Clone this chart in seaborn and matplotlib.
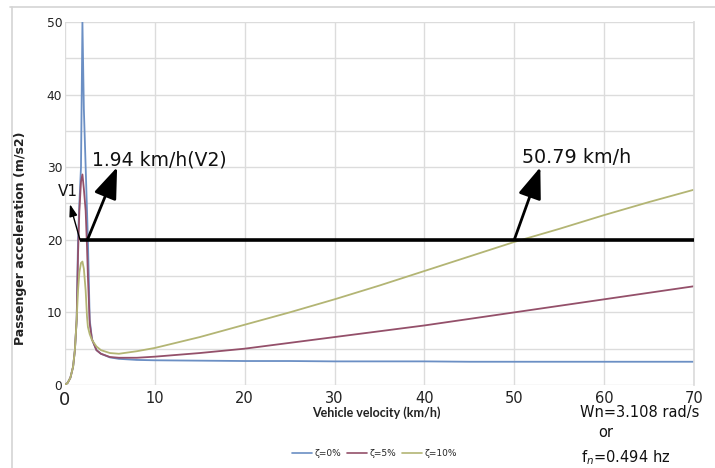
import numpy as np
import pandas as pd
import matplotlib
matplotlib.use("Agg")
import matplotlib.pyplot as plt
from matplotlib.lines import Line2D
import seaborn as sns

# Vehicle velocity (km/h) and passenger acceleration (m/s2) for three damping ratios
velocity = [0, 0.3, 0.6, 0.9, 1.1, 1.3, 1.45, 1.6, 1.78, 1.94, 2.1, 2.3, 2.45, 2.55,
            2.75, 3.0, 3.5, 4, 5, 6, 8, 10, 15, 20, 25, 30, 35, 40, 45, 50, 55, 60, 65, 70]
accel_z0 = [0, 0.3, 1.0, 2.5, 4.8, 9, 20, 25, 30, 50, 38, 30, 24, 20,
            9, 6.3, 4.8, 4.3, 3.8, 3.6, 3.45, 3.4, 3.35, 3.3, 3.3, 3.25, 3.25, 3.25, 3.2, 3.2, 3.2, 3.2, 3.2, 3.2]
accel_z5 = [0, 0.3, 1.0, 2.5, 4.8, 9, 18, 24, 28, 29, 27, 24, 19, 15,
            8.5, 6.3, 4.8, 4.3, 3.85, 3.75, 3.75, 3.9, 4.4, 5.0, 5.8, 6.6, 7.4, 8.2, 9.1, 10.0, 10.9, 11.8, 12.7, 13.6]
accel_z10 = [0, 0.3, 1.0, 2.5, 4.8, 9, 13, 15.5, 16.8, 17, 16, 13, 9.4, 8,
             7, 6.2, 5.3, 4.8, 4.4, 4.3, 4.65, 5.1, 6.6, 8.3, 10.0, 11.8, 13.7, 15.7, 17.7, 19.7, 21.5, 23.4, 25.2, 26.9]
series_labels = ["ζ=0%", "ζ=5%", "ζ=10%"]
series_colors = ["#6b8fc4", "#94506a", "#b3b574"]

# Comfort limit and the two crossing speeds
limit_accel = 20
limit_start = 1.67
v2_speed = 1.94
crossing_speed = 50.79

df = pd.DataFrame({
    "velocity": velocity * 3,
    "accel": accel_z0 + accel_z5 + accel_z10,
    "damping": sum([[lab] * len(velocity) for lab in series_labels], []),
})

sns.set_theme(style="whitegrid")
plt.rcParams["font.family"] = ["DejaVu Sans"]

fig = plt.figure(figsize=(7.15, 4.68), dpi=100)
ax = fig.add_axes([0.0909, 0.1774, 0.8797, 0.7756])

sns.lineplot(data=df, x="velocity", y="accel", hue="damping", hue_order=series_labels,
             palette=series_colors, linewidth=1.3, ax=ax, legend=False, sort=False,
             estimator=None)

ax.set_xlim(0, 70)
ax.set_ylim(0, 50)
ax.set_xticks(range(0, 71, 10))
ax.set_yticks(range(0, 51, 10))
ax.set_yticks(range(5, 50, 10), minor=True)
ax.grid(True, which="both", axis="y", color="#dcdcdc", linewidth=1.0)
ax.grid(True, which="major", axis="x", color="#dcdcdc", linewidth=1.0)
ax.set_facecolor("white")
for side in ["left", "top", "bottom"]:
    ax.spines[side].set_visible(False)
ax.spines["right"].set_color("#dcdcdc")
ax.tick_params(axis="both", which="both", length=0)
ax.tick_params(axis="y", labelsize=8.8, pad=2, colors="#222222")
ax.tick_params(axis="x", labelsize=10.5, pad=4, colors="#222222")
ax.get_xticklabels()[0].set_fontsize(13)

ax.set_xlabel("")
ax.set_ylabel("")
fig.text(0.028, 0.49, "Passenger acceleration (m/s2)", rotation=90, ha="center",
         va="center", fontsize=9, fontweight="bold", color="#222222")
fig.text(0.527, 0.118, "Vehicle velocity (km/h)", ha="center", va="center",
         fontsize=9, fontweight="bold", family=["Lato", "DejaVu Sans"], color="#222222")

# Comfort limit line
ax.plot([limit_start, 70], [limit_accel, limit_accel], color="black", linewidth=2.6,
        solid_capstyle="butt", zorder=4)

# V1 marker
ax.annotate("", xy=(0.55, 24.9), xytext=(limit_start, limit_accel),
            arrowprops=dict(arrowstyle="-|>,head_length=0.9,head_width=0.3",
                            color="black", lw=1.0, mutation_scale=8,
                            shrinkA=0, shrinkB=0), zorder=5)
ax.text(0.35, 26.6, "V1", ha="center", va="center", fontsize=11, color="#111111")

big_arrow = dict(arrowstyle="-|>,head_length=1.6,head_width=0.6", color="black",
                 lw=2.0, mutation_scale=12, shrinkA=0, shrinkB=0)
ax.annotate("", xy=(5.8, 30.0), xytext=(2.5, limit_accel), arrowprops=big_arrow, zorder=5)
ax.text(3.0, 31.0, f"{v2_speed} km/h(V2)", ha="left", va="center", fontsize=13.5,
        color="#111111")
ax.annotate("", xy=(52.9, 30.0), xytext=(50.0, limit_accel), arrowprops=big_arrow, zorder=5)
ax.text(50.9, 31.4, f"{crossing_speed} km/h", ha="left", va="center", fontsize=13.8,
        color="#111111")

# Natural frequency note
fig.text(0.895, 0.118, "Wn=3.108 rad/s", ha="center", va="center", fontsize=10.5,
         color="#111111")
fig.text(0.847, 0.075, "or", ha="center", va="center", fontsize=10.5, color="#111111")
fig.text(0.812, 0.022, r"f$_{n}$=0.494 hz", ha="left", va="center", fontsize=10.5,
         color="#111111")

# Legend
handles = [Line2D([0], [0], color=c, lw=1.2) for c in series_colors]
fig.legend(handles, series_labels, loc="center", bbox_to_anchor=(0.524, 0.030), ncol=3,
           frameon=False, fontsize=6.5, handlelength=2.2, handletextpad=0.3,
           columnspacing=0.6)

# Chart area frame
fig.add_artist(Line2D([0.014, 1.0], [0.985, 0.985], color="#d4d4d4", lw=1.2))
fig.add_artist(Line2D([0.017, 0.017], [0.985, 0.0], color="#d4d4d4", lw=1.2))

fig.savefig("out.png", dpi=100, facecolor="white")
